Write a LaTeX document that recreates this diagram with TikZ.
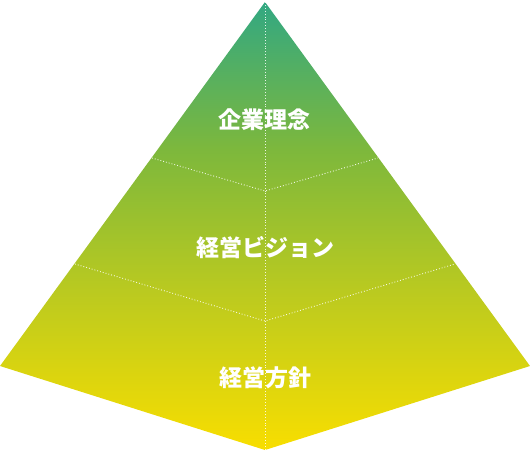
\documentclass[tikz,border=0pt]{standalone}
\usepackage{fontspec}
\newfontfamily\jpfont{Noto Sans CJK JP}
\definecolor{jaune}{RGB}{248,222,0}
\definecolor{vertjaune}{RGB}{190,203,30}
\definecolor{vertpre}{RGB}{125,184,60}
\definecolor{turquoise}{RGB}{50,168,130}
\pgfdeclareverticalshading{pyramide}{100bp}{color(0bp)=(jaune); color(25bp)=(jaune); color(41.7bp)=(vertjaune); color(58.5bp)=(vertpre); color(75bp)=(turquoise); color(100bp)=(turquoise)}

\begin{document}
\begin{tikzpicture}[x=1pt,y=-1pt]
\tikzset{pointille/.style={draw=white, line width=0.9pt, dash pattern=on 0.9pt off 2pt, opacity=0.85}}
\tikzset{etage/.style={text=white, font=\jpfont\bfseries\fontsize{23}{23}\selectfont}}
\useasboundingbox (0,0) rectangle (530,451);
\coordinate (S) at (265,2);
\coordinate (G) at (0,366);
\coordinate (D) at (530,366);
\coordinate (B) at (265,450);
\coordinate (G1) at (152,158);
\coordinate (M1) at (265,191);
\coordinate (D1) at (378,158);
\coordinate (G2) at (75,264);
\coordinate (M2) at (265,321);
\coordinate (D2) at (455,264);
\shade[shading=pyramide] (S) -- (D) -- (B) -- (G) -- cycle;
\draw[pointille] (S) -- (B);
\draw[pointille] (G1) -- (M1) -- (D1);
\draw[pointille] (G2) -- (M2) -- (D2);
\node[etage] (N1) at (264,120) {企業理念};
\node[etage] (N2) at (265,248) {経営ビジョン};
\node[etage] (N3) at (265,378) {経営方針};
\end{tikzpicture}
\end{document}
